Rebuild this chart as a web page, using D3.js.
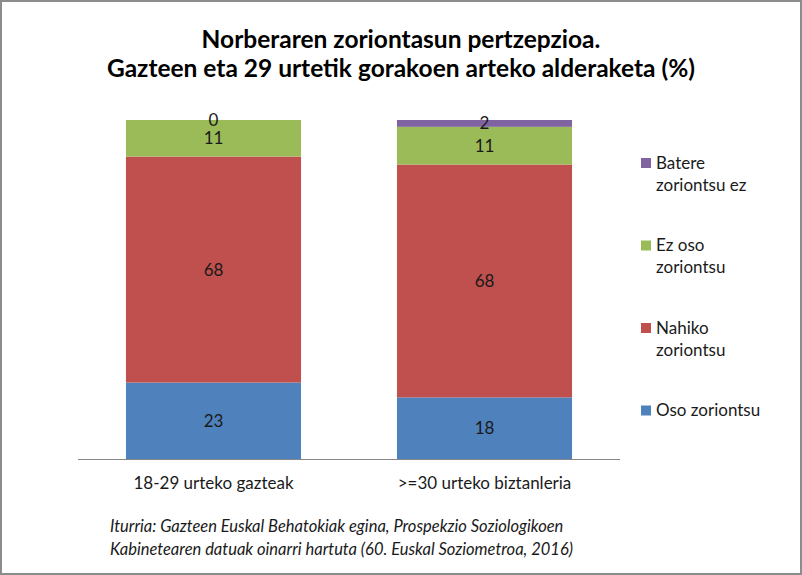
<!DOCTYPE html>
<html>
<head>
<meta charset="utf-8">
<script src="https://cdn.jsdelivr.net/npm/d3@7"></script>
<style>
  body { margin: 0; background: #fff; }
  svg { display: block; font-family: Lato, "Open Sans", sans-serif; }
</style>
</head>
<body>
<svg id="chart" width="802" height="575"></svg>
<script>
const categories = ['18-29 urteko gazteak', '>=30 urteko biztanleria'];
const seriesNames = ['Oso zoriontsu', 'Nahiko zoriontsu', 'Ez oso zoriontsu', 'Batere zoriontsu ez'];
const osoZoriontsu = [23, 18];
const nahikoZoriontsu = [68, 68];
const ezOsoZoriontsu = [11, 11];
const batereZoriontsuEz = [0, 2];
const colors = ['#4F81BD', '#C0504D', '#9BBB59', '#8064A2'];

const svg = d3.select('#chart');
const margin = { top: 120, left: 78, right: 182, bottom: 116 };
const W = 802, H = 575;

// frame
svg.append('rect')
  .attr('x', 1).attr('y', 1).attr('width', W - 2).attr('height', H - 2)
  .attr('fill', '#fff').attr('stroke', '#8c8c8c').attr('stroke-width', 2);

// title
svg.append('text').attr('x', 401).attr('y', 48).attr('text-anchor', 'middle')
  .attr('font-size', 24.5).attr('font-weight', 'bold').text('Norberaren zoriontasun pertzepzioa.');
svg.append('text').attr('x', 401).attr('y', 77).attr('text-anchor', 'middle')
  .attr('font-size', 24.5).attr('font-weight', 'bold').text('Gazteen eta 29 urtetik gorakoen arteko alderaketa (%)');

const series = [osoZoriontsu, nahikoZoriontsu, ezOsoZoriontsu, batereZoriontsuEz];
const rows = categories.map((c, i) => {
  const r = { cat: c };
  seriesNames.forEach((s, k) => { r[s] = series[k][i]; });
  return r;
});
const stacked = d3.stack().keys(seriesNames).offset(d3.stackOffsetExpand)(rows);

const x = d3.scaleBand()
  .domain(categories)
  .range([margin.left, W - margin.right])
  .paddingInner(0.354)
  .paddingOuter(0.177);

const y = d3.scaleLinear()
  .domain([0, 1])
  .range([H - margin.bottom, margin.top]);

const groups = svg.selectAll('.layer')
  .data(stacked)
  .enter().append('g')
  .attr('fill', (d, i) => colors[i]);

groups.selectAll('rect')
  .data(d => d)
  .enter().append('rect')
  .attr('x', d => x(d.data.cat))
  .attr('y', d => y(d[1]))
  .attr('width', x.bandwidth())
  .attr('height', d => y(d[0]) - y(d[1]));

// data labels
stacked.forEach((layer, k) => {
  svg.selectAll(null)
    .data(layer)
    .enter().append('text')
    .attr('x', d => x(d.data.cat) + x.bandwidth() / 2)
    .attr('y', d => (y(d[0]) + y(d[1])) / 2)
    .attr('dy', '0.35em')
    .attr('text-anchor', 'middle')
    .attr('font-size', 17)
    .attr('fill', '#1a1a1a')
    .text(d => d.data[layer.key]);
});

// x axis
const xAxis = svg.append('g')
  .attr('transform', `translate(0, ${H - margin.bottom + 0.5})`)
  .call(d3.axisBottom(x).tickSize(0).tickPadding(17));
xAxis.select('.domain').attr('stroke', '#868686').attr('d', `M${margin.left},0H${W - margin.right}`);
xAxis.selectAll('text').attr('font-size', 17).attr('fill', '#1a1a1a').attr('font-family', 'Lato, sans-serif');

// legend
const legendOrder = seriesNames.slice().reverse();
const legendLines = [['Batere', 'zoriontsu ez'], ['Ez oso', 'zoriontsu'], ['Nahiko', 'zoriontsu'], ['Oso zoriontsu']];
const legend = svg.append('g').attr('transform', 'translate(641, 163)');
legendOrder.forEach((name, i) => {
  const g = legend.append('g').attr('transform', `translate(0, ${i * 82.5})`);
  g.append('rect').attr('x', 0).attr('y', -5).attr('width', 10).attr('height', 10)
    .attr('fill', colors[seriesNames.indexOf(name)]);
  legendLines[i].forEach((line, j) => {
    g.append('text').attr('x', 15).attr('y', j * 22).attr('dy', '0.35em')
      .attr('font-size', 17).attr('fill', '#1a1a1a').text(line);
  });
});

// source
svg.append('text').attr('x', 110).attr('y', 532).attr('font-size', 16.5).attr('font-style', 'italic')
  .attr('fill', '#1a1a1a').text('Iturria: Gazteen Euskal Behatokiak egina, Prospekzio Soziologikoen');
svg.append('text').attr('x', 110).attr('y', 555).attr('font-size', 16.5).attr('font-style', 'italic')
  .attr('fill', '#1a1a1a').text('Kabinetearen datuak oinarri hartuta (60. Euskal Soziometroa, 2016)');
</script>
</body>
</html>
